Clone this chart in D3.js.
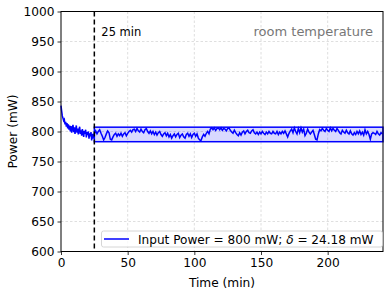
<!DOCTYPE html>
<html><head><meta charset="utf-8">
<script src="https://cdn.jsdelivr.net/npm/d3@7"></script>
<style>
body{margin:0;background:#fff;}
svg{display:block;font-family:"DejaVu Sans",sans-serif;}
</style></head>
<body><svg id="c" width="390" height="293"></svg>
<script>
// Early segment, 0..24.5 min every 0.5 min
const earlyPower = [843,834,826,822,818,820,812,816,808,814,805,812,803,810,800,809,798,806,811,799,807,796,804,810,798,805,795,803,808,796,802,793,804,798,791,801,796,803,790,799,794,800,788,797,792,799,785,796,788,794];
// Steady segment, 25..241 min every 1 min
const steadyPower = [
796,801,796,800,803,797,792,786,790,796,
801,798,787,786,791,795,797,792,796,793,
797,792,796,798,793,797,800,802,799,803,
804,800,805,801,799,804,800,798,803,805,
800,797,801,796,800,795,799,794,798,800,
795,792,796,798,793,797,791,795,789,793,
796,791,795,797,790,794,796,791,789,795,
797,792,796,790,795,797,792,796,789,786,
785,791,795,792,797,800,796,804,806,803,
806,802,805,806,803,806,802,805,804,801,
805,806,802,799,797,802,798,795,793,798,
794,799,801,796,800,802,798,797,801,803,
798,796,799,795,799,796,800,797,795,799,
796,800,797,796,800,797,796,800,795,799,
796,800,797,801,796,791,797,801,804,798,
806,800,796,805,798,806,799,804,793,797,
804,799,796,799,802,795,787,786,796,803,
801,805,802,800,805,802,800,806,801,805,
802,800,805,802,798,796,802,799,797,802,
798,796,801,796,794,798,795,800,796,801,
795,799,794,803,796,800,795,787,796,798,
797,795,800,796,794,798,796];
const bandLow = 783, bandHigh = 807.2, bandStart = 25;
const xTicks = [0,50,100,150,200];
const yTicks = [600,650,700,750,800,850,900,950,1000];
const xMax = 241.5;

const data = [];
earlyPower.forEach((v,i)=>data.push({t:i*0.5,p:v}));
steadyPower.forEach((v,i)=>data.push({t:25+i,p:v}));

const svg = d3.select("#c");
const L=61,R=383,T=11.5,B=251.5;
const x = d3.scaleLinear().domain([0,xMax]).range([L,R]);
const y = d3.scaleLinear().domain([600,1000]).range([B,T]);

// grid
const g = svg.append("g");
g.selectAll(".gx").data(xTicks.slice(1)).join("line")
 .attr("x1",d=>x(d)).attr("x2",d=>x(d)).attr("y1",T).attr("y2",B)
 .attr("stroke","#b0b0b0").attr("stroke-width",0.8).attr("stroke-dasharray","2.5,2").attr("opacity",0.5);
g.selectAll(".gy").data(yTicks.slice(1,-1)).join("line")
 .attr("x1",L).attr("x2",R).attr("y1",d=>y(d)).attr("y2",d=>y(d))
 .attr("stroke","#b0b0b0").attr("stroke-width",0.8).attr("stroke-dasharray","2.5,2").attr("opacity",0.5);

// band
svg.append("rect").attr("x",x(bandStart)).attr("y",y(bandHigh))
 .attr("width",x(xMax)-x(bandStart)).attr("height",y(bandLow)-y(bandHigh))
 .attr("fill","rgba(0,0,255,0.15)").attr("stroke","#0000ff").attr("stroke-width",1.5);

// line
svg.append("path").datum(data)
 .attr("d",d3.line().x(d=>x(d.t)).y(d=>y(d.p)))
 .attr("fill","none").attr("stroke","#0000ff").attr("stroke-width",1.5);

// vertical dashed
svg.append("line").attr("x1",x(25)).attr("x2",x(25)).attr("y1",T).attr("y2",B)
 .attr("stroke","#000").attr("stroke-width",1.5).attr("stroke-dasharray","5,3");

// axes
const xa = svg.append("g").attr("transform",`translate(0,${B})`)
 .call(d3.axisBottom(x).tickValues(xTicks).tickFormat(d3.format("d")).tickSize(3.5).tickPadding(3));
const ya = svg.append("g").attr("transform",`translate(${L},0)`)
 .call(d3.axisLeft(y).tickValues(yTicks).tickFormat(d3.format("d")).tickSize(3.5).tickPadding(3));
[xa,ya].forEach(a=>{a.select(".domain").remove();
 a.selectAll("text").attr("font-size",12.2).attr("fill","#000").attr("font-family","DejaVu Sans");
 a.selectAll("line").attr("stroke","#000").attr("stroke-width",0.8);});

// frame
svg.append("rect").attr("x",L).attr("y",T).attr("width",R-L).attr("height",B-T)
 .attr("fill","none").attr("stroke","#000").attr("stroke-width",1);

// labels
svg.append("text").attr("x",(L+R)/2).attr("y",287).attr("text-anchor","middle")
 .attr("font-size",12.2).text("Time (min)");
svg.append("text").attr("transform",`translate(17,${(T+B)/2}) rotate(-90)`).attr("text-anchor","middle")
 .attr("font-size",12.2).text("Power (mW)");
svg.append("text").attr("x",x(25)+7).attr("y",36).attr("font-size",11.5).text("25 min");
svg.append("text").attr("x",373).attr("y",36).attr("text-anchor","end").attr("font-size",13)
 .attr("fill","#777").text("room temperature");

// legend
svg.append("rect").attr("x",101.5).attr("y",231).attr("width",281).attr("height",16).attr("rx",2)
 .attr("fill","#fff").attr("fill-opacity",0.8).attr("stroke","#ccc").attr("stroke-width",0.8);
svg.append("line").attr("x1",104).attr("x2",129).attr("y1",239).attr("y2",239)
 .attr("stroke","#0000ff").attr("stroke-width",1.5);
const lt = svg.append("text").attr("x",138).attr("y",243.5).attr("font-size",12.1);
lt.append("tspan").text("Input Power = 800 mW; ");
lt.append("tspan").attr("font-style","italic").text("δ");
lt.append("tspan").text(" = 24.18 mW");
</script></body></html>
